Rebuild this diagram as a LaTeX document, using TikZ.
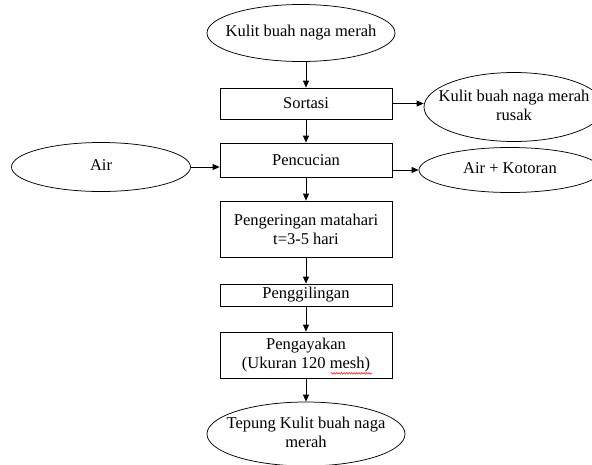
\documentclass[tikz,border=0pt]{standalone}
\usepackage{fontspec}
\setmainfont{Liberation Serif}
\usetikzlibrary{shapes.geometric,arrows.meta,decorations.pathmorphing}

% text inside an oval that keeps the oval at its given size
\newcommand{\ovaltext}[1]{\makebox[0pt]{\begin{tabular}{@{}c@{}}#1\end{tabular}}}

\begin{document}
\begin{tikzpicture}[x=1pt,y=-1pt,
    font=\fontsize{16.5}{19}\selectfont,
    oval/.style={draw,ellipse,inner sep=0pt,line width=0.75pt},
    procbox/.style={draw,rectangle,minimum width=172pt,inner sep=2pt,align=center,line width=0.75pt},
    arr/.style={-{Triangle[length=7pt,width=6pt]},line width=0.75pt}]
  \useasboundingbox (0,0) rectangle (592,464);

  % main column
  \node[oval,minimum width=188pt,minimum height=57pt] (kulit) at (301,33) {\ovaltext{Kulit buah naga merah}};
  \node[procbox,minimum height=31pt] (sortasi) at (306,103.5) {Sortasi};
  \node[procbox,minimum height=34pt] (pencucian) at (306,160) {Pencucian};
  \node[procbox,minimum height=56pt] (kering) at (306,229) {Pengeringan matahari\\t=3-5 hari};
  \node[procbox,minimum height=22pt] (giling) at (306,295) {Penggilingan};
  \node[procbox,minimum height=46pt] (ayak) at (306,355) {Pengayakan\\(Ukuran 120 mesh)};
  \node[oval,minimum width=198pt,minimum height=64pt] (tepung) at (306,434) {\ovaltext{Tepung Kulit buah naga\\merah}};

  % side ovals
  \node[oval,minimum width=179pt,minimum height=49pt] (air) at (101,167) {\ovaltext{Air}};
  \node[oval,minimum width=180pt,minimum height=69pt] (rusak) at (514,107) {\ovaltext{Kulit buah naga merah\\rusak}};
  \node[oval,minimum width=182pt,minimum height=45pt] (kotoran) at (510,170) {\ovaltext{Air + Kotoran}};

  % spell check wave under mesh
  \draw[red,line width=0.5pt,decorate,decoration={zigzag,segment length=2.5pt,amplitude=0.8pt}]
    ([xshift=25pt,yshift=5pt]ayak.south) -- ([xshift=66pt,yshift=5pt]ayak.south);

  % arrows down
  \draw[arr] (kulit.south -| sortasi) -- (sortasi.north);
  \draw[arr] (sortasi) -- (pencucian);
  \draw[arr] (pencucian) -- (kering);
  \draw[arr] (kering) -- (giling);
  \draw[arr] (giling) -- (ayak);
  \draw[arr] (ayak) -- (tepung);

  % arrows in and out
  \draw[arr] (sortasi.east) -- (sortasi.east -| rusak.west);
  \draw[arr] (air.east) -- (air.east -| pencucian.west);
  \draw[arr] (kotoran.west -| pencucian.east) -- (kotoran.west);
\end{tikzpicture}
\end{document}
